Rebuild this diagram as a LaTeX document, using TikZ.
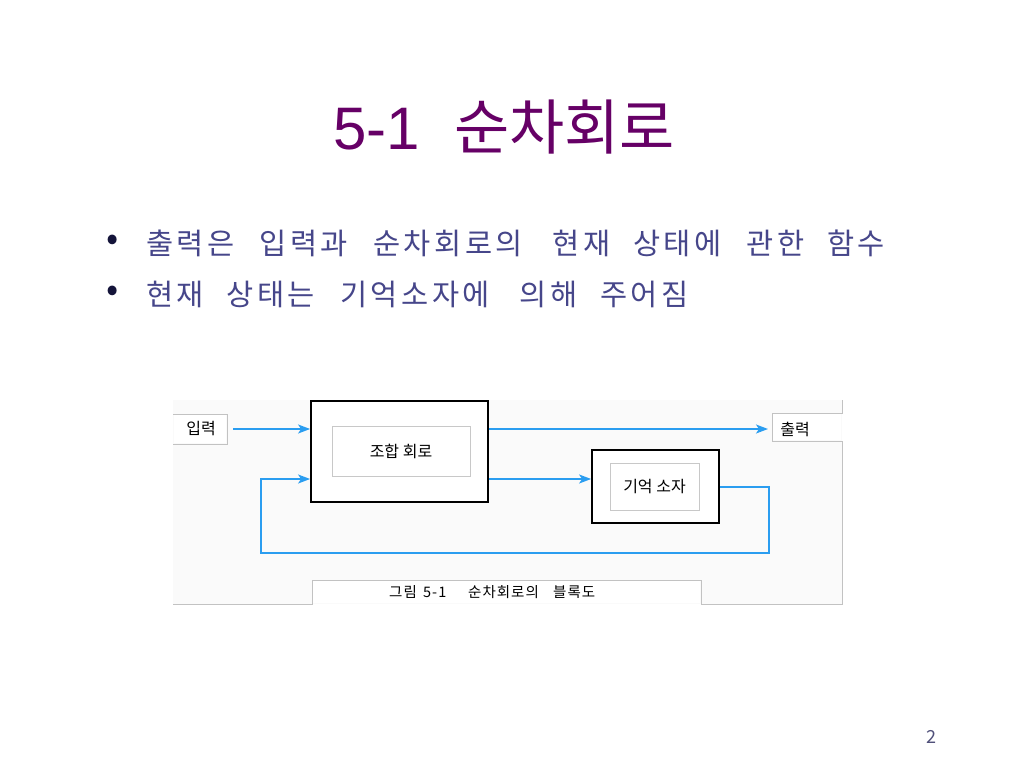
\documentclass[tikz,border=0pt]{standalone}
\usepackage{fontspec}
\setmainfont{Noto Sans CJK KR}
\newfontfamily\krfont{Noto Sans CJK KR}
\newfontfamily\latinfont{Liberation Sans}
\usetikzlibrary{arrows.meta}
\definecolor{titlec}{HTML}{660066}
\definecolor{bulc}{HTML}{46468A}
\definecolor{dotc}{HTML}{14143A}
\definecolor{arrc}{HTML}{2A9DF0}
\definecolor{edgec}{HTML}{C2C2C2}
\definecolor{innerc}{HTML}{C8C8C8}
\definecolor{pagec}{HTML}{50507A}
\newlength\lsgap
\ExplSyntaxOn
\NewDocumentCommand\sw{m}{ \tl_map_inline:nn {#1} { ##1 \kern\lsgap } }
\ExplSyntaxOff
\newcommand\wordbox[2]{\makebox[#1][l]{\sw{#2}}}
\tikzset{
  outerbox/.style={draw=black, line width=1.8pt, inner sep=0pt},
  innerbox/.style={draw=innerc, line width=0.8pt, inner sep=0pt, font=\krfont\fontsize{16}{18}\selectfont},
  flow/.style={draw=arrc, line width=1.4pt},
  flowarrow/.style={flow, -{Stealth[length=12pt,width=9pt,inset=3pt]}},
  scanedge/.style={draw=edgec, line width=1pt},
  lbl/.style={inner sep=0pt, font=\krfont\fontsize{16}{18}\selectfont},
  bullettext/.style={anchor=base west, inner sep=0pt, text=bulc, font=\krfont\fontsize{29.5}{34}\selectfont\setlength\lsgap{3.5pt}},
  bulletdot/.style={inner sep=0pt, text=dotc, font=\krfont\fontsize{36}{40}\selectfont}
}
\begin{document}
\begin{tikzpicture}[x=1pt,y=-1pt]
\useasboundingbox[fill=white] (0,0) rectangle (1024,768);

% title
\node[inner sep=0pt, anchor=west, text=titlec, font=\krfont\fontsize{60}{64}\selectfont] (title) at (333,127) {\makebox[121pt][l]{\latinfont 5-1}순차회로};

% bullets
\node[bulletdot] (b1) at (113,243) {•};
\node[bullettext] (t1) at (146,254) {\wordbox{113.5pt}{출력은}\wordbox{113.5pt}{입력과}\wordbox{179.5pt}{순차회로의}\wordbox{80.5pt}{현재}\wordbox{113.5pt}{상태에}\wordbox{80.5pt}{관한}\sw{함수}};
\node[bulletdot] (b2) at (113,294) {•};
\node[bullettext] (t2) at (146,305) {\wordbox{80.5pt}{현재}\wordbox{113.5pt}{상태는}\wordbox{179.5pt}{기억소자에}\wordbox{80.5pt}{의해}\sw{주어짐}};

% scanned figure background and edges
\fill[fill=black!2] (173,400) rectangle (842,604);
\path[scanedge] (173,414) -- (227,414) -- (227,444) -- (173,444);
\path[scanedge] (842,400) -- (842,413) -- (772,413) -- (772,441) -- (842,441)
  -- (842,604) -- (701,604) -- (701,580) -- (312,580) -- (312,604) -- (173,604);
\fill[white] (174,415) rectangle (226,443);
\fill[white] (773,414) rectangle (841,440);
\fill[white] (313,581) rectangle (700,603);

% labels
\node[lbl] (in) at (201,429) {입력};
\node[lbl] (out) at (795,429) {출력};
\node[inner sep=0pt, anchor=base west, font=\krfont\fontsize{14.5}{16}\selectfont\setlength\lsgap{1pt}] (cap) at (389,597) {\wordbox{34pt}{그림}\wordbox{45pt}{5-1}\wordbox{85pt}{순차회로의}\sw{블록도}};

% blocks
\node[outerbox, fill=white, minimum width=177pt, minimum height=101pt] (cc) at (399.5,451.5) {};
\node[innerbox, minimum width=138pt, minimum height=50pt] (cci) at (401,451) {조합 회로};
\node[outerbox, fill=white, minimum width=127pt, minimum height=73pt] (mem) at (655.5,486.5) {};
\node[innerbox, minimum width=89pt, minimum height=47pt] (memi) at (654.5,486.5) {기억 소자};

% coordinates
\coordinate (inS) at (233,429);
\coordinate (outE) at (768,429);
\coordinate (fbR) at (769,487);
\coordinate (fbRB) at (769,553);
\coordinate (fbLB) at (261,553);
\coordinate (fbL) at (261,479);

% connectors
\draw[flowarrow] (inS) -- (cc.west |- inS);
\draw[flowarrow] (cc.east |- inS) -- (outE);
\draw[flowarrow] (cc.east |- fbL) -- (mem.west |- fbL);
\draw[flowarrow] (mem.east |- fbR) -- (fbR) -- (fbRB) -- (fbLB) -- (fbL) -- (cc.west |- fbL);

% page number
\node[inner sep=0pt, text=pagec, font=\krfont\fontsize{18}{20}\selectfont] (pg) at (931,737) {2};
\end{tikzpicture}
\end{document}
